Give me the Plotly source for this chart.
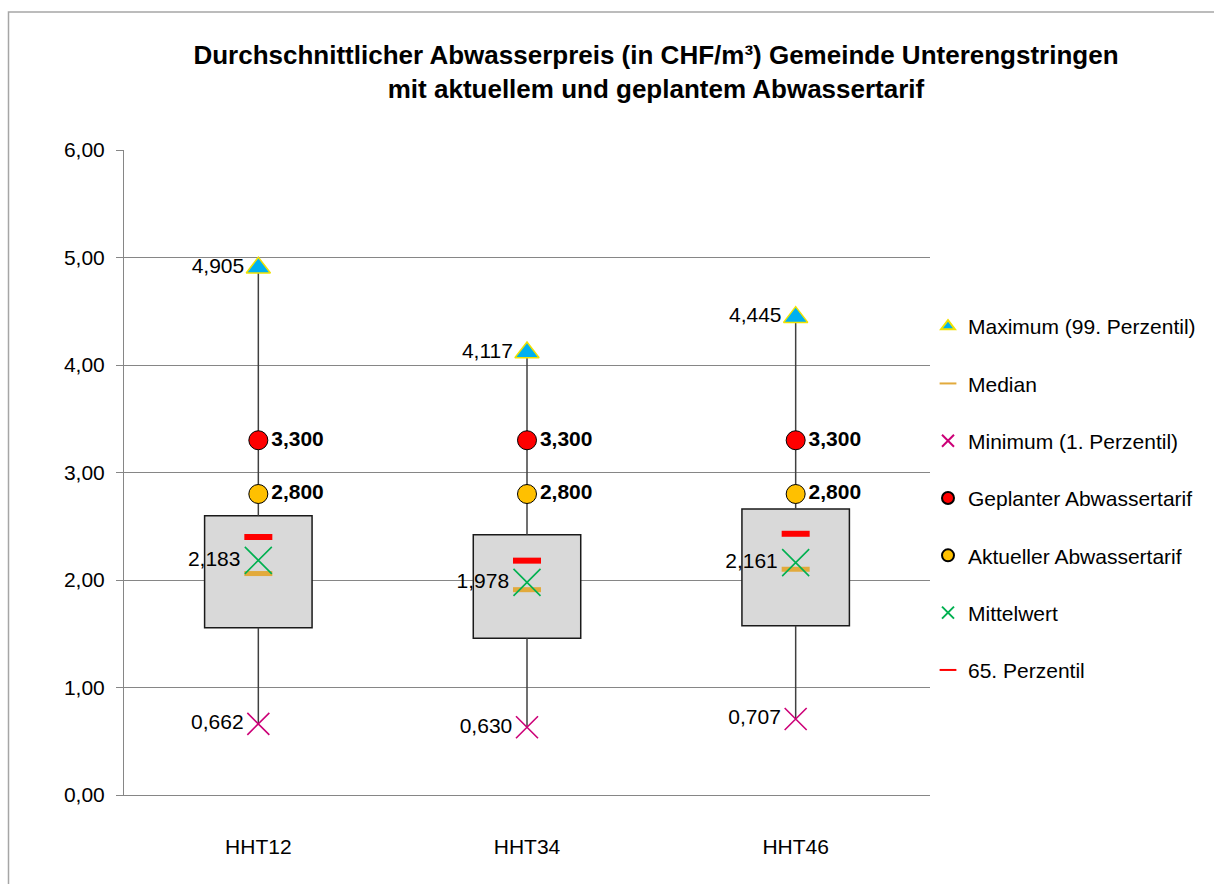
import plotly.graph_objects as go

categories = ["HHT12", "HHT34", "HHT46"]
maximum = [4.905, 4.117, 4.445]
minimum = [0.662, 0.630, 0.707]
mean = [2.183, 1.978, 2.161]
median = [2.06, 1.91, 2.10]
q1 = [1.556, 1.458, 1.574]
q3 = [2.598, 2.421, 2.660]
p65 = [2.40, 2.18, 2.43]
planned = [3.300, 3.300, 3.300]
current = [2.800, 2.800, 2.800]
y_ticks = [0, 1, 2, 3, 4, 5, 6]

FONT = "Liberation Sans, Arial, sans-serif"
FS = 21
fmt3 = lambda v: f"{v:.3f}".replace(".", ",")

fig = go.Figure()

# box body (q1..q3)
fig.add_trace(go.Bar(
    x=categories, y=[b - a for a, b in zip(q1, q3)], base=q1, width=0.4,
    marker=dict(color="#D9D9D9", line=dict(color="#1a1a1a", width=1.5)),
    showlegend=False, hoverinfo="skip"))

# whiskers
wx, wy = [], []
for c, lo, a, b, hi in zip(categories, minimum, q1, q3, maximum):
    wx += [c, c, None, c, c, None]
    wy += [lo, a, None, b, hi, None]
fig.add_trace(go.Scatter(x=wx, y=wy, mode="lines",
                         line=dict(color="#404040", width=1.5),
                         showlegend=False, hoverinfo="skip"))

tfont = dict(family=FONT, size=FS, color="#000000")
bfont = dict(family=FONT, size=FS, color="#000000", weight="bold")

def grp(name):
    return dict(legendgroup=name, name=name)

fig.add_trace(go.Scatter(
    x=categories, y=maximum, mode="markers+text", **grp("Maximum (99. Perzentil)"),
    text=[fmt3(v) for v in maximum], textposition="middle left", textfont=tfont,
    marker=dict(symbol="triangle-up", size=21, color="#00B0F0",
                line=dict(color="#F2E200", width=1.5))))
fig.add_trace(go.Scatter(
    x=categories, y=median, mode="markers", **grp("Median"),
    marker=dict(symbol="line-ew", size=20, color="#E2AA3C",
                line=dict(color="#E2AA3C", width=5))))
fig.add_trace(go.Scatter(
    x=categories, y=minimum, mode="markers+text", **grp("Minimum (1. Perzentil)"),
    text=[fmt3(v) for v in minimum], textposition="middle left", textfont=tfont,
    marker=dict(symbol="x-thin", size=22, color="#CC0077",
                line=dict(color="#CC0077", width=1.6))))
fig.add_trace(go.Scatter(
    x=categories, y=planned, mode="markers+text", **grp("Geplanter Abwassertarif"),
    text=[fmt3(v) for v in planned], textposition="middle right", textfont=bfont,
    marker=dict(symbol="circle", size=19, color="#FF0000",
                line=dict(color="#000000", width=1))))
fig.add_trace(go.Scatter(
    x=categories, y=current, mode="markers+text", **grp("Aktueller Abwassertarif"),
    text=[fmt3(v) for v in current], textposition="middle right", textfont=bfont,
    marker=dict(symbol="circle", size=19, color="#FFC000",
                line=dict(color="#000000", width=1))))
fig.add_trace(go.Scatter(
    x=categories, y=mean, mode="markers+text", **grp("Mittelwert"),
    text=[fmt3(v) for v in mean], textposition="middle left", textfont=tfont,
    marker=dict(symbol="x-thin", size=27, color="#00B050",
                line=dict(color="#00B050", width=1.6))))
fig.add_trace(go.Scatter(
    x=categories, y=p65, mode="markers", **grp("65. Perzentil"),
    marker=dict(symbol="line-ew", size=20, color="#FF0000",
                line=dict(color="#FF0000", width=6))))

L, R, T, B = 124, 284, 150, 89
W, H = 1214, 884
pw, ph = W - L - R, H - T - B
px = lambda x: (x - L) / pw
py = lambda y: (H - B - y) / ph

fig.update_layout(
    width=W, height=H,
    margin=dict(l=L, r=R, t=T, b=B),
    paper_bgcolor="white", plot_bgcolor="white",
    separators=",.",
    font=dict(family=FONT, size=FS, color="#000000"),
    title=dict(text="Durchschnittlicher Abwasserpreis (in CHF/m³) Gemeinde Unterengstringen<br>mit aktuellem und geplantem Abwassertarif",
               x=656 / W, xanchor="center", xref="container",
               y=1 - 64 / H, yanchor="middle", yref="container",
               font=dict(family=FONT, size=26, color="#000000", weight="bold")),
    showlegend=True,
    legend=dict(x=px(928), xanchor="left", y=py(306), yanchor="top",
                traceorder="grouped", tracegroupgap=27,
                font=dict(family=FONT, size=FS, color="#000000"),
                itemsizing="constant", bgcolor="rgba(0,0,0,0)"),
    bargap=0.6,
    shapes=[dict(type="rect", xref="paper", yref="paper",
                 x0=px(8.5), x1=px(1230), y0=py(900), y1=py(12),
                 line=dict(color="#A6A6A6", width=1.5), layer="below")],
)
fig.update_xaxes(showgrid=False, showline=True, linecolor="#868686", linewidth=1,
                 ticks="", tickfont=dict(family=FONT, size=FS, color="#000000"),
                 ticklabelstandoff=33)
fig.update_yaxes(range=[0, 6], tickvals=y_ticks, tickformat=".2f",
                 showgrid=True, gridcolor="#868686", gridwidth=1,
                 showline=True, linecolor="#868686", linewidth=1,
                 ticks="outside", ticklen=7, tickcolor="#868686",
                 tickfont=dict(family=FONT, size=FS, color="#000000"),
                 ticklabelstandoff=7, zeroline=False)

fig.write_html("out.html", config={"displayModeBar": False},
               post_script="document.body.style.margin='0';")
